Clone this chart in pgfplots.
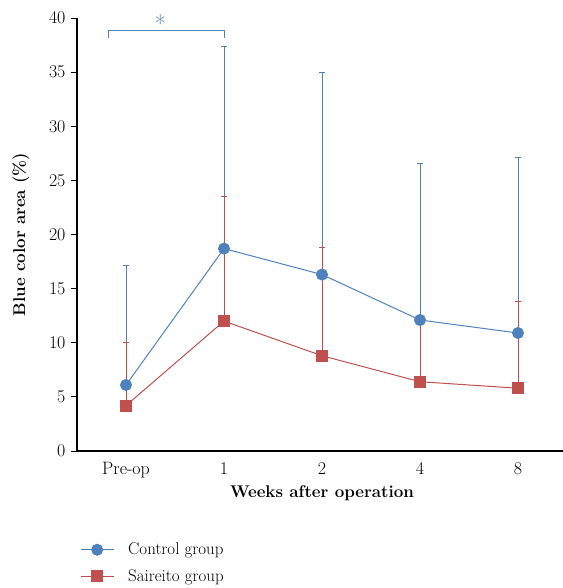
\documentclass[border=0pt]{standalone}
\usepackage{fontspec}
\usepackage{pgfplots}
\pgfplotsset{compat=1.18}
\definecolor{cblue}{HTML}{4F81BD}
\definecolor{cred}{HTML}{C0504D}
\begin{document}
\begin{tikzpicture}
\useasboundingbox (-77bp,-137bp) rectangle (486bp,451bp);
\begin{axis}[
  scale only axis,
  width=490bp, height=433bp,
  xmin=-0.5, xmax=4.5, ymin=0, ymax=40,
  axis x line*=bottom, axis y line*=left,
  axis line style={black, line width=1.3pt, -},
  xtick={0,1,2,3,4}, xticklabels={Pre-op,1,2,4,8},
  ytick={0,5,...,40},
  /pgf/number format/assume math mode=true,
  major x tick style={draw=none},
  y tick style={black, line width=1pt},
  tick align=outside, major tick length=6bp,
  tick label style={font=\fontsize{18}{21}\selectfont},
  yticklabel style={xshift=-2bp},
  xticklabel style={yshift=-2bp},
  label style={font=\fontsize{17}{20}\selectfont\bfseries},
  xlabel={Weeks after operation},
  ylabel={Blue color area (\%)},
  xlabel style={at={(axis description cs:0.5,0)}, anchor=center, yshift=-42bp},
  ylabel style={at={(axis description cs:0,0.5)}, anchor=center, yshift=56bp},
  clip=false,
  legend style={draw=none, at={(0.0,-0.203)}, anchor=north west,
    font=\fontsize{17}{20}\selectfont, row sep=9bp, fill=none,
    nodes={inner sep=2bp}},
  legend cell align=left,
  legend image code/.code={\draw[#1, mark repeat=2, mark phase=2] plot coordinates {(0bp,0bp) (16.5bp,0bp) (33bp,0bp)};\path (45bp,0bp);},
]
\addplot[cblue, line width=1pt, mark=*, mark size=5.5bp, mark options={fill=cblue, draw=cblue},
  error bars/.cd, y dir=plus, y explicit,
  error bar style={cblue, line width=1pt},
  error mark options={cblue, rotate=90, mark size=3bp, line width=1pt}]
  coordinates {(0,6.1) +- (0,11.0) (1,18.7) +- (0,18.7) (2,16.3) +- (0,18.7) (3,12.1) +- (0,14.5) (4,10.9) +- (0,16.2)};
\addlegendentry{Control group}
\addplot[cred, line width=1pt, mark=square*, mark size=5.5bp, mark options={fill=cred, draw=cred},
  error bars/.cd, y dir=plus, y explicit,
  error bar style={cred, line width=1pt},
  error mark options={cred, rotate=90, mark size=3bp, line width=1pt}]
  coordinates {(0,4.2) +- (0,5.8) (1,12.0) +- (0,11.5) (2,8.8) +- (0,10.0) (3,6.4) +- (0,5.7) (4,5.8) +- (0,8.05)};
\addlegendentry{Saireito group}
\draw[cblue, line width=1pt] (axis cs:-0.18,38.15) -- (axis cs:-0.18,38.8) -- (axis cs:1,38.8) -- (axis cs:1,38.15);
\node[cblue, font=\fontsize{24}{26}\selectfont, anchor=base, inner sep=0pt] at (axis cs:0.35,38.63) {*};
\end{axis}
\end{tikzpicture}
\end{document}
